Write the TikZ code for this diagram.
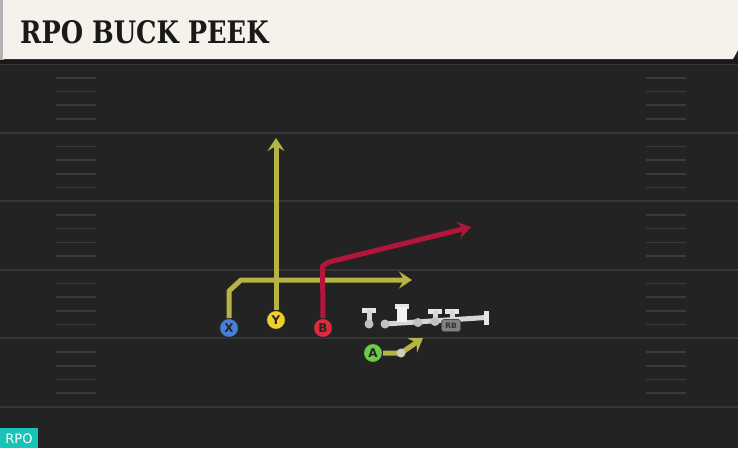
\documentclass[tikz,border=0pt]{standalone}
\usepackage{fontspec}
\setsansfont{DejaVu Sans}
\newfontfamily\titlefont{DejaVu Serif Condensed}
\usetikzlibrary{arrows.meta}
\definecolor{bg}{HTML}{232323}
\definecolor{yardc}{HTML}{363636}
\definecolor{hashc}{HTML}{3A3A3A}
\definecolor{cream}{HTML}{F5F2EC}
\definecolor{olive}{HTML}{B5B445}
\definecolor{crimson}{HTML}{B3163A}
\definecolor{xblue}{HTML}{4A7FD8}
\definecolor{yyel}{HTML}{EFCF2E}
\definecolor{bred}{HTML}{DE2A3E}
\definecolor{agreen}{HTML}{6CCB48}
\definecolor{olc}{HTML}{D6D6D6}
\definecolor{teal}{HTML}{19C4B6}
\tikzset{
  route/.style={line width=5pt, -{Stealth[length=13pt,width=17pt,inset=5pt]}},
  player/.style={circle, draw=black!85, line width=1pt, minimum size=19pt, inner sep=0pt,
    font=\sffamily\bfseries\fontsize{12}{12}\selectfont, text=black!85},
  yardline/.style={draw=yardc, line width=2pt},
  hashmark/.style={draw=hashc, line width=1.6pt},
  olline/.style={draw=olc, line width=5pt, line cap=round},
  oldot/.style={circle, fill=olc!90!black, inner sep=0pt, minimum size=9pt},
  tbar/.style={draw=olc!60!white, line width=5pt},
}
\begin{document}
\begin{tikzpicture}[x=1pt,y=-1pt]
\useasboundingbox (0,0) rectangle (738,448);
\fill[bg] (0,0) rectangle (738,448);
% yard lines and hashes
\foreach \i in {0,...,5}{
  \pgfmathsetmacro{\yy}{64+68.6*\i}
  \draw[yardline] (0,\yy) -- (738,\yy);
}
\foreach \i in {0,...,4}{
  \foreach \k in {1,...,4}{
    \pgfmathsetmacro{\yy}{64+68.6*\i+13.72*\k}
    \draw[hashmark] (56,\yy) -- (96,\yy);
    \draw[hashmark] (646,\yy) -- (686,\yy);
  }
}
% banner
\fill[black!90] (0,58) rectangle (738,64);
\fill[black!30] (0,0) rectangle (4,60);
\fill[cream] (3,0) -- (738,0) -- (738,50) -- (733,59) -- (3,59) -- cycle;
\node[anchor=west, inner sep=0pt, text=black!90] (title) at (20,32)
  {\titlefont\bfseries\fontsize{31}{31}\selectfont\scalebox{0.92}[1]{RPO BUCK PEEK}};
% players
\node[player, fill=xblue] (X) at (229,328) {X};
\node[player, fill=yyel] (Y) at (276,320) {Y};
\node[player, fill=bred] (B) at (323,328) {B};
\node[player, fill=agreen] (A) at (373,353) {A};
\coordinate (x1) at (229,291);
\coordinate (x2) at (241,280);
\coordinate (xe) at (412,280);
\coordinate (ye) at (276,138);
\coordinate (b1) at (322.5,266);
\coordinate (b2) at (329,262);
\coordinate (be) at (471,227);
\coordinate (a1) at (401,353);
\coordinate (ae) at (423,338);
% routes
\draw[route, olive] (Y.north) -- (ye);
\draw[route, olive, line join=round] (X.north) -- (x1) -- (x2) -- (xe);
\draw[route, crimson, line join=round] (B.north) -- (b1) -- (b2) -- (be);
\draw[route, olive, line join=round] (A.east) -- (a1) -- (ae);
\node[oldot, fill=olc!80!olive] (adot) at (a1) {};
% offensive line
\coordinate (t1) at (369,310);
\coordinate (t1b) at (369,324);
\coordinate (l0) at (385,324);
\coordinate (le) at (486,317.5);
\draw[olline] (l0) -- (le);
\draw[tbar] (362,310) -- (376,310);
\draw[olline, line cap=butt] (t1) -- (t1b);
\node[oldot] (d1) at (t1b) {};
% second T with square stem
\draw[tbar] (395,306) -- (409,306);
\fill[white!95!black] (397,307) rectangle (407,322);
\draw[tbar] (428,311) -- (442,311);
\draw[olline, line cap=butt] (435,311) -- (435,321);
\draw[tbar] (445,311) -- (459,311);
\draw[olline, line cap=butt] (452,311) -- (452,320);
\draw[tbar] (486,311) -- (486,325);
\node[oldot] (d2) at (l0) {};
\node[oldot] (d3) at (418,322.5) {};
\node[oldot] (d4) at (435,321.5) {};
\node[fill=black!50, rounded corners=2.5pt, draw=black!70, line width=0.6pt, minimum width=19pt, minimum height=12pt, inner sep=0pt,
  font=\sffamily\bfseries\fontsize{7.5}{7.5}\selectfont, text=black!80] (rb) at (451,325.5) {RB};
% RPO tag
\fill[teal] (0,428) rectangle (38,448);
\node[text=white, font=\sffamily\fontsize{13}{13}\selectfont, inner sep=0pt] (rpo) at (19,438.5) {RPO};
\end{tikzpicture}
\end{document}
